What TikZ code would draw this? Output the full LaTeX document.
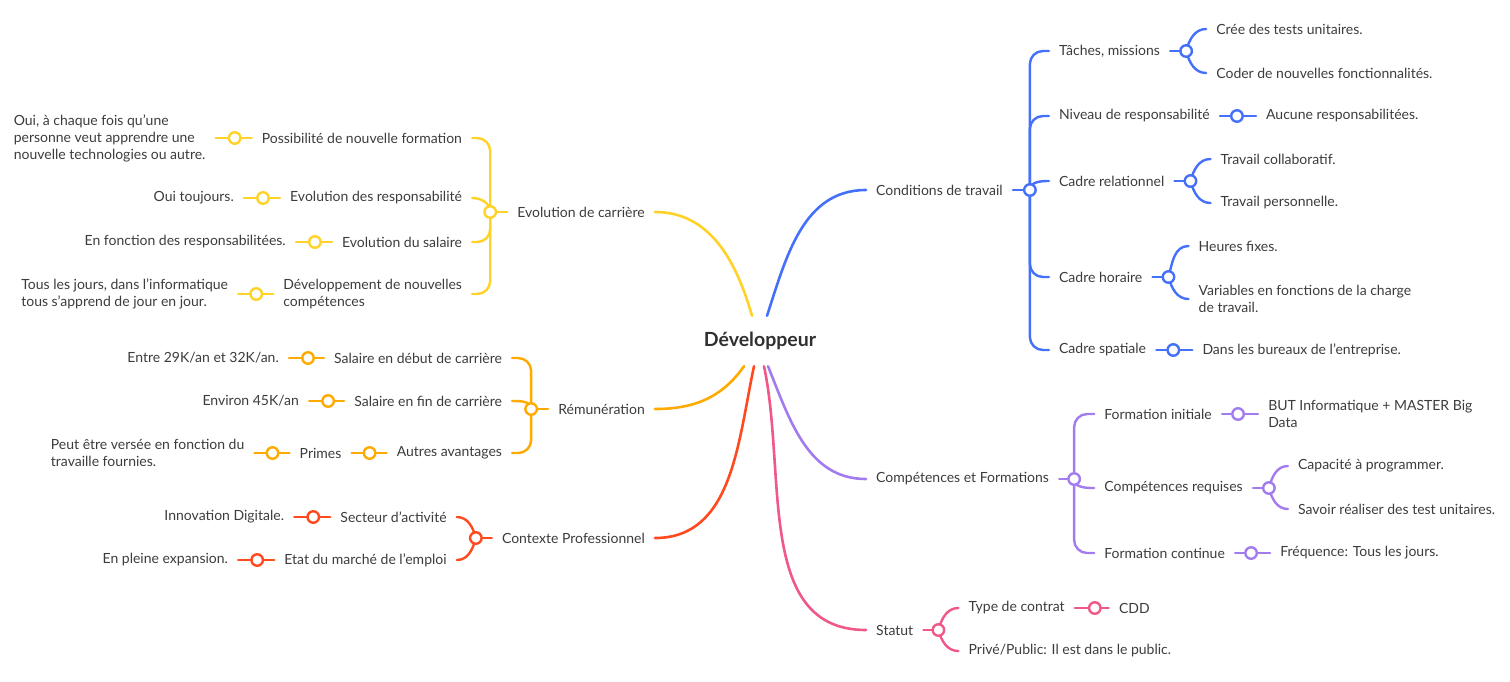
\documentclass[tikz,border=0pt]{standalone}
\usepackage{fontspec}
\setmainfont{Lato}
\usetikzlibrary{positioning}

\definecolor{cBlue}{RGB}{68,112,250}
\definecolor{cYellow}{RGB}{255,210,40}
\definecolor{cOrange}{RGB}{255,170,0}
\definecolor{cRed}{RGB}{255,74,32}
\definecolor{cPurple}{RGB}{162,124,238}
\definecolor{cPink}{RGB}{240,88,136}
\definecolor{txt}{RGB}{60,60,60}

\tikzset{
  topic/.style={inner xsep=10pt, inner ysep=2pt, text=txt, align=left,
    font=\fontsize{14}{17}\selectfont},
  root/.style={inner xsep=4pt, minimum height=50pt, text=txt!80!black,
    font=\bfseries\fontsize{19.5}{22}\selectfont},
  branch/.style={line width=2.6pt, line cap=round},
  link/.style={line width=2.4pt, line cap=round, rounded corners=13pt},
  knot/.style={circle, draw=#1, fill=white, line width=2.4pt,
    minimum size=11.5pt, inner sep=0pt}
}

\begin{document}
\begin{tikzpicture}[x=1pt, y=1pt]
  \useasboundingbox (0,0) rectangle (1510,-681);

  % centre
  \node[root] (dev) at (760,-341) {Développeur};

  % Conditions de travail
  \node[topic, anchor=west] (cond) at (866,-190) {Conditions de travail};
  \coordinate[right=17pt of cond] (jCond);
  \node[topic, right=19pt of jCond, yshift=139pt] (tach) {Tâches, missions};
  \coordinate[right=16pt of tach] (jTach);
  \node[topic, right=20pt of jTach, yshift=22pt] (tests) {Crée des tests unitaires.};
  \node[topic, right=20pt of jTach, yshift=-22pt] (coder) {Coder de nouvelles fonctionnalités.};
  \node[topic, right=19pt of jCond, yshift=74pt] (resp) {Niveau de responsabilité};
  \coordinate[right=17pt of resp] (jResp);
  \node[topic, right=19pt of jResp] (aucune) {Aucune responsabilitées.};
  \node[topic, right=19pt of jCond, yshift=9pt] (rel) {Cadre relationnel};
  \coordinate[right=16pt of rel] (jRel);
  \node[topic, right=20pt of jRel, yshift=22pt] (collab) {Travail collaboratif.};
  \node[topic, right=20pt of jRel, yshift=-22pt] (perso) {Travail personnelle.};
  \node[topic, right=19pt of jCond, yshift=-87pt] (hor) {Cadre horaire};
  \coordinate[right=16pt of hor] (jHor);
  \node[topic, right=20pt of jHor, yshift=31pt] (fixes) {Heures fixes.};
  \node[topic, right=20pt of jHor, yshift=-22pt] (var) {Variables en fonctions de la charge\\de travail.};
  \node[topic, right=19pt of jCond, yshift=-160pt] (spat) {Cadre spatiale};
  \coordinate[right=17pt of spat] (jSpat);
  \node[topic, right=19pt of jSpat] (bureaux) {Dans les bureaux de l'entreprise.};

  % Compétences et Formations
  \node[topic, anchor=west] (comp) at (866,-479) {Compétences et Formations};
  \coordinate[right=15pt of comp] (jComp);
  \node[topic, right=20pt of jComp, yshift=65pt] (fi) {Formation initiale};
  \coordinate[right=16pt of fi] (jFi);
  \node[topic, right=20pt of jFi] (but) {BUT Informatique + MASTER Big\\Data};
  \node[topic, right=20pt of jComp, yshift=-9pt] (cr) {Compétences requises};
  \coordinate[right=16pt of cr] (jCr);
  \node[topic, right=19pt of jCr, yshift=22pt] (prog) {Capacité à programmer.};
  \node[topic, right=19pt of jCr, yshift=-21pt] (savoir) {Savoir réaliser des test unitaires.};
  \node[topic, right=20pt of jComp, yshift=-74pt] (fc) {Formation continue};
  \coordinate[right=16pt of fc] (jFc);
  \node[topic, right=19pt of jFc] (freq) {Fréquence: Tous les jours.};

  % Statut
  \node[topic, anchor=west] (stat) at (866,-630) {Statut};
  \coordinate[right=15pt of stat] (jStat);
  \node[topic, right=20pt of jStat, yshift=22pt] (type) {Type de contrat};
  \coordinate[right=20pt of type] (jType);
  \node[topic, right=14pt of jType] (cdd) {CDD};
  \node[topic, right=20pt of jStat, yshift=-21pt] (prive) {Privé/Public: Il est dans le public.};

  % Evolution de carrière
  \node[topic, anchor=east] (evol) at (655,-212) {Evolution de carrière};
  \coordinate[left=17pt of evol] (jEvol);
  \node[topic, left=18pt of jEvol, yshift=74pt] (poss) {Possibilité de nouvelle formation};
  \coordinate[left=17pt of poss] (jPoss);
  \node[topic, left=19pt of jPoss] (chaque) {Oui, à chaque fois qu'une\\personne veut apprendre une\\nouvelle technologies ou autre.};
  \node[topic, left=18pt of jEvol, yshift=14pt] (evresp) {Evolution des responsabilité};
  \coordinate[left=17pt of evresp] (jEvresp);
  \node[topic, left=19pt of jEvresp] (toujours) {Oui toujours.};
  \node[topic, left=18pt of jEvol, yshift=-30pt] (evsal) {Evolution du salaire};
  \coordinate[left=17pt of evsal] (jEvsal);
  \node[topic, left=19pt of jEvsal] (enfonction) {En fonction des responsabilitées.};
  \node[topic, left=18pt of jEvol, yshift=-82pt] (devcomp) {Développement de nouvelles\\compétences};
  \coordinate[left=17pt of devcomp] (jDevcomp);
  \node[topic, left=18pt of jDevcomp] (tousjours) {Tous les jours, dans l'informatique\\tous s'apprend de jour en jour.};

  % Rémunération
  \node[topic, anchor=east] (rem) at (655,-409) {Rémunération};
  \coordinate[left=17pt of rem] (jRem);
  \node[topic, left=19pt of jRem, yshift=51pt] (deb) {Salaire en début de carrière};
  \coordinate[left=16pt of deb] (jDeb);
  \node[topic, left=19pt of jDeb] (entre) {Entre 29K/an et 32K/an.};
  \node[topic, left=19pt of jRem, yshift=8pt] (fin) {Salaire en fin de carrière};
  \coordinate[left=16pt of fin] (jFin);
  \node[topic, left=19pt of jFin] (environ) {Environ 45K/an};
  \node[topic, left=19pt of jRem, yshift=-44pt] (autres) {Autres avantages};
  \coordinate[left=17pt of autres] (jAutres);
  \node[topic, left=18pt of jAutres] (primes) {Primes};
  \coordinate[left=17pt of primes] (jPrimes);
  \node[topic, left=18pt of jPrimes] (verse) {Peut être versée en fonction du\\travaille fournies.};

  % Contexte Professionnel
  \node[topic, anchor=east] (ctx) at (655,-538) {Contexte Professionnel};
  \coordinate[left=16pt of ctx] (jCtx);
  \node[topic, left=19pt of jCtx, yshift=21pt] (sect) {Secteur d'activité};
  \coordinate[left=17pt of sect] (jSect);
  \node[topic, left=19pt of jSect] (innov) {Innovation Digitale.};
  \node[topic, left=19pt of jCtx, yshift=-22pt] (etat) {Etat du marché de l'emploi};
  \coordinate[left=17pt of etat] (jEtat);
  \node[topic, left=19pt of jEtat] (expansion) {En pleine expansion.};

  % main branches
  \draw[branch, cBlue] ([xshift=7pt]dev.north) to[out=72, in=180] (cond.west);
  \draw[branch, cYellow] ([xshift=-8pt]dev.north) to[out=106, in=0] (evol.east);
  \draw[branch, cOrange] ([xshift=-16pt]dev.south) to[out=-125, in=0] (rem.east);
  \draw[branch, cRed] ([xshift=-6pt]dev.south) to[out=-102, in=0] (ctx.east);
  \draw[branch, cPink] ([xshift=4pt]dev.south) to[out=-78, in=180] (stat.west);
  \draw[branch, cPurple] ([xshift=8pt]dev.south) to[out=-68, in=180] (comp.west);

  % blue links
  \draw[link, cBlue] (cond.east) -- (jCond);
  \draw[link, cBlue] (jCond) |- (tach.west);
  \draw[link, cBlue] (jCond) |- (resp.west);
  \draw[link, cBlue] (jCond) to[out=90, in=180] (rel.west);
  \draw[link, cBlue] (jCond) |- (hor.west);
  \draw[link, cBlue] (jCond) |- (spat.west);
  \draw[link, cBlue] (tach.east) -- (jTach);
  \draw[link, cBlue] (jTach) to[out=75, in=180] (tests.west);
  \draw[link, cBlue] (jTach) to[out=-75, in=180] (coder.west);
  \draw[link, cBlue] (resp.east) -- (jResp) -- (aucune.west);
  \draw[link, cBlue] (rel.east) -- (jRel);
  \draw[link, cBlue] (jRel) to[out=75, in=180] (collab.west);
  \draw[link, cBlue] (jRel) to[out=-75, in=180] (perso.west);
  \draw[link, cBlue] (hor.east) -- (jHor);
  \draw[link, cBlue] (jHor) to[out=75, in=180] (fixes.west);
  \draw[link, cBlue] (jHor) to[out=-75, in=180] (var.west);
  \draw[link, cBlue] (spat.east) -- (jSpat) -- (bureaux.west);

  % purple links
  \draw[link, cPurple] (comp.east) -- (jComp);
  \draw[link, cPurple] (jComp) |- (fi.west);
  \draw[link, cPurple] (jComp) to[out=-90, in=180] (cr.west);
  \draw[link, cPurple] (jComp) |- (fc.west);
  \draw[link, cPurple] (fi.east) -- (jFi) -- (but.west);
  \draw[link, cPurple] (cr.east) -- (jCr);
  \draw[link, cPurple] (jCr) to[out=75, in=180] (prog.west);
  \draw[link, cPurple] (jCr) to[out=-75, in=180] (savoir.west);
  \draw[link, cPurple] (fc.east) -- (jFc) -- (freq.west);

  % pink links
  \draw[link, cPink] (stat.east) -- (jStat);
  \draw[link, cPink] (jStat) to[out=75, in=180] (type.west);
  \draw[link, cPink] (jStat) to[out=-75, in=180] (prive.west);
  \draw[link, cPink] (type.east) -- (jType) -- (cdd.west);

  % yellow links
  \draw[link, cYellow] (evol.west) -- (jEvol);
  \draw[link, cYellow] (jEvol) |- (poss.east);
  \draw[link, cYellow] (jEvol) to[out=90, in=0] (evresp.east);
  \draw[link, cYellow] (jEvol) |- (evsal.east);
  \draw[link, cYellow] (jEvol) |- (devcomp.east);
  \draw[link, cYellow] (poss.west) -- (jPoss) -- (chaque.east);
  \draw[link, cYellow] (evresp.west) -- (jEvresp) -- (toujours.east);
  \draw[link, cYellow] (evsal.west) -- (jEvsal) -- (enfonction.east);
  \draw[link, cYellow] (devcomp.west) -- (jDevcomp) -- (tousjours.east);

  % orange links
  \draw[link, cOrange] (rem.west) -- (jRem);
  \draw[link, cOrange] (jRem) |- (deb.east);
  \draw[link, cOrange] (jRem) to[out=90, in=0] (fin.east);
  \draw[link, cOrange] (jRem) |- (autres.east);
  \draw[link, cOrange] (deb.west) -- (jDeb) -- (entre.east);
  \draw[link, cOrange] (fin.west) -- (jFin) -- (environ.east);
  \draw[link, cOrange] (autres.west) -- (jAutres) -- (primes.east);
  \draw[link, cOrange] (primes.west) -- (jPrimes) -- (verse.east);

  % red links
  \draw[link, cRed] (ctx.west) -- (jCtx);
  \draw[link, cRed] (jCtx) to[out=105, in=0] (sect.east);
  \draw[link, cRed] (jCtx) to[out=-105, in=0] (etat.east);
  \draw[link, cRed] (sect.west) -- (jSect) -- (innov.east);
  \draw[link, cRed] (etat.west) -- (jEtat) -- (expansion.east);

  % junction circles
  \foreach \j/\c in {jCond/cBlue, jTach/cBlue, jResp/cBlue, jRel/cBlue, jHor/cBlue, jSpat/cBlue,
      jComp/cPurple, jFi/cPurple, jCr/cPurple, jFc/cPurple,
      jStat/cPink, jType/cPink,
      jEvol/cYellow, jPoss/cYellow, jEvresp/cYellow, jEvsal/cYellow, jDevcomp/cYellow,
      jRem/cOrange, jDeb/cOrange, jFin/cOrange, jAutres/cOrange, jPrimes/cOrange,
      jCtx/cRed, jSect/cRed, jEtat/cRed}
    \node[knot=\c] at (\j) {};
\end{tikzpicture}
\end{document}
